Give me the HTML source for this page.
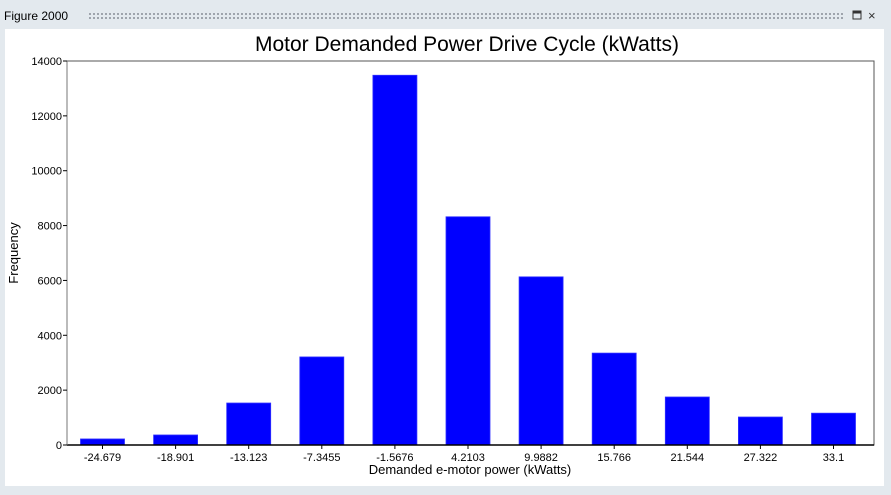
<!DOCTYPE html>
<html><head><meta charset="utf-8"><style>
body{margin:0;width:891px;height:495px;background:#e3e9ee;font-family:"Liberation Sans",Arial,sans-serif;overflow:hidden;position:relative}
#hdr{position:absolute;left:4px;top:9px;font-size:12px;color:#000}
#dots{position:absolute;left:88px;top:12px;width:756px;height:7px;background-image:radial-gradient(circle,#8a9099 0.8px,transparent 1.1px);background-size:4px 4px}
#panel{position:absolute;left:5px;top:29px;width:879px;height:457px;background:#fff}
</style></head><body>
<div id="hdr">Figure 2000</div>
<div id="dots"></div>
<svg style="position:absolute;left:852px;top:9px" width="30" height="14">
<rect x="1" y="2" width="8" height="8" fill="none" stroke="#333"/><line x1="1" y1="3.5" x2="9" y2="3.5" stroke="#333" stroke-width="2"/>
<text x="16" y="11" font-size="13" fill="#333">×</text></svg>
<div id="panel"></div>
<svg id="chart" style="position:absolute;left:0;top:0" width="891" height="495"></svg>
<script>
const categories=["-24.679","-18.901","-13.123","-7.3455","-1.5676","4.2103","9.9882","15.766","21.544","27.322","33.1"];
const values=[220,365,1530,3210,13480,8320,6130,3350,1750,1020,1160];
const yTicks=[0,2000,4000,6000,8000,10000,12000,14000];
const L=67,R=874,T=61,B=445,yMax=14000;
const step=73.1,x0=102.5,bw=44;
const xs=i=>x0+i*step, ys=v=>B-(v/yMax)*(B-T);
const svg=document.getElementById('chart'),NS='http://www.w3.org/2000/svg';
function mk(t,a,p){const e=document.createElementNS(NS,t);for(const k in a)e.setAttribute(k,a[k]);(p||svg).appendChild(e);return e;}
let r=mk('rect',{x:L,y:T,width:R-L,height:B-T,fill:'none',stroke:'#555','stroke-width':1});


values.forEach((v,i)=>{const b=mk('rect',{x:xs(i)-bw/2,y:ys(v),width:bw,height:B-ys(v),fill:'#0000ff',stroke:'#3030ff','stroke-width':0.8});

});
mk('line',{x1:L,y1:B,x2:R,y2:B,stroke:'#000','stroke-width':1.5});
mk('line',{x1:L,y1:T,x2:L,y2:B,stroke:'#777','stroke-width':1});
yTicks.forEach(t=>{const y=ys(t);mk('line',{x1:L-4,y1:y,x2:L,y2:y,stroke:'#000'});
const tx=mk('text',{x:L-5,y:y+4,'font-size':11,'text-anchor':'end'});tx.textContent=t;

});
categories.forEach((c,i)=>{const x=xs(i);mk('line',{x1:x,y1:B,x2:x,y2:B+4,stroke:'#000'});
const tx=mk('text',{x:x,y:B+16,'font-size':11,'text-anchor':'middle'});tx.textContent=c;

});
let t=mk('text',{x:467,y:51,'font-size':21,'text-anchor':'middle'});t.textContent='Motor Demanded Power Drive Cycle (kWatts)';


t=mk('text',{x:470,y:474,'font-size':13,'text-anchor':'middle'});t.textContent='Demanded e-motor power (kWatts)';


t=mk('text',{x:18,y:253,'font-size':13,'text-anchor':'middle',transform:'rotate(-90 18 253)'});t.textContent='Frequency';


</script>
</body></html>
